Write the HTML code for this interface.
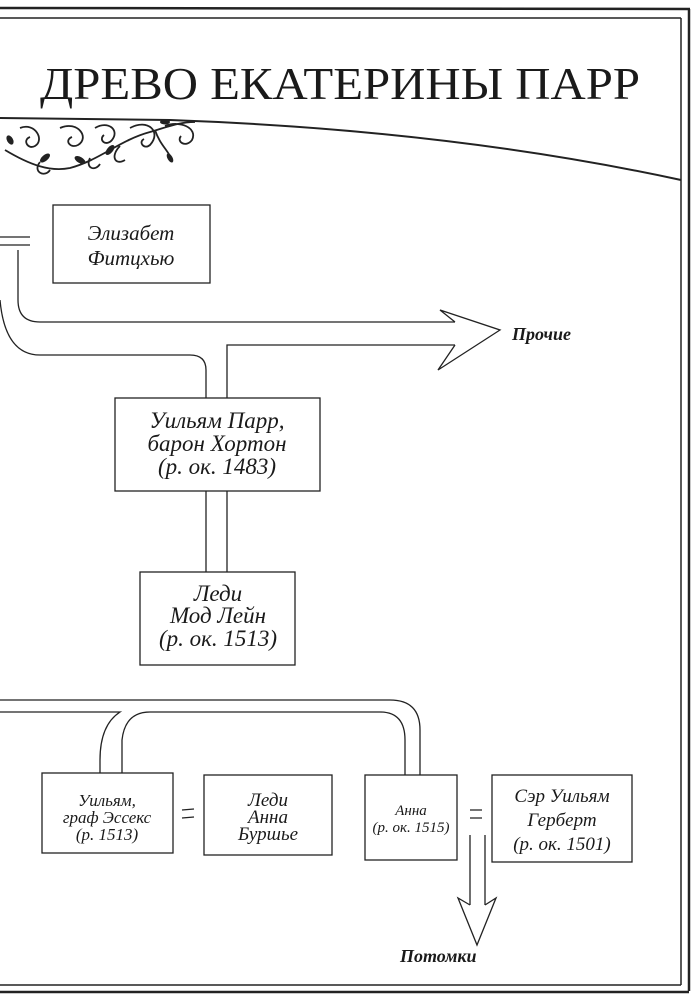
<!DOCTYPE html>
<html><head><meta charset="utf-8"><style>
html,body{margin:0;padding:0;background:#fff;}
svg{display:block;}
text{font-family:"Liberation Serif",serif;font-style:italic;fill:#1a1a1a;}
</style></head><body>
<svg width="697" height="1002" viewBox="0 0 697 1002" xmlns="http://www.w3.org/2000/svg">
<g fill="none" stroke="#222">
<path d="M0 8 L690 9" stroke-width="2.5"/>
<path d="M0 18 L681 18" stroke-width="1.5"/>
<path d="M681 18 L681 985" stroke-width="1.5"/>
<path d="M689 9 L689 991" stroke-width="2.5"/>
<path d="M0 985 L681 985" stroke-width="1.5"/>
<path d="M0 992 L689 992" stroke-width="2.5"/>
<path d="M0 118 L170 120 Q450 130 681 180" stroke-width="2"/>
<g stroke-width="1.8">
<path d="M5 150 C30 165 50 172 70 168 C100 160 120 140 150 132 C170 126 180 122 195 122"/>
<path d="M20 128 C35 122 45 140 35 146 C28 150 22 140 30 137"/>
<path d="M60 128 C78 120 90 138 78 145 C70 149 64 140 72 137"/>
<path d="M95 128 C108 120 120 130 112 140 C106 147 98 140 104 135"/>
<path d="M130 128 C148 118 162 132 150 145 C144 150 138 142 144 139"/>
<path d="M165 126 C180 120 198 128 192 140 C186 148 176 142 181 136"/>
<path d="M40 162 C32 172 45 178 50 170"/>
<path d="M90 158 C85 168 95 172 100 164"/>
<path d="M120 146 C110 156 115 166 125 160"/>
<path d="M155 130 C160 145 168 150 172 160"/>
</g>
<g fill="#222" stroke="none">
<ellipse cx="45" cy="158" rx="6" ry="3" transform="rotate(-40 45 158)"/>
<ellipse cx="80" cy="160" rx="6" ry="3" transform="rotate(30 80 160)"/>
<ellipse cx="110" cy="150" rx="6" ry="3" transform="rotate(-50 110 150)"/>
<ellipse cx="165" cy="122" rx="5" ry="2.5"/>
<ellipse cx="10" cy="140" rx="5" ry="3" transform="rotate(60 10 140)"/>
<ellipse cx="170" cy="158" rx="5" ry="2.5" transform="rotate(60 170 158)"/>
</g>
<g stroke-width="1.3">
<rect x="53" y="205" width="157" height="78"/>
<rect x="115" y="398" width="205" height="93"/>
<rect x="140" y="572" width="155" height="93"/>
<rect x="42" y="773" width="131" height="80"/>
<rect x="204" y="775" width="128" height="80"/>
<rect x="365" y="775" width="92" height="85"/>
<rect x="492" y="775" width="140" height="87"/>
</g>
<g stroke-width="1.3">
<path d="M0 237 L30 237 M0 245 L30 245"/>
<path d="M18 250 L18 300 Q18 322 40 322 L455 322"/>
<path d="M0 300 Q5 355 40 355 L190 355 Q206 355 206 370 L206 398"/>
<path d="M227 398 L227 345 L455 345"/>
<path d="M455 322 L440 310 L500 330 L438 370 L455 345"/>
<path d="M206 491 L206 572 M227 491 L227 572"/>
<path d="M0 700 L390 700 Q420 700 420 730 L420 775"/>
<path d="M0 712 L120 712 Q100 725 100 760 L100 773"/>
<path d="M405 775 L405 740 Q405 712 380 712 L150 712 Q125 712 122 740 L122 773"/>
<path d="M182 810 L194 809 M182 818 L194 817"/>
<path d="M470 810 L482 810 M470 818 L482 818"/>
<path d="M470 835 L470 905 M485 835 L485 905"/>
<path d="M470 905 L458 898 L477 945 L496 898 L485 905"/>
</g>
</g>
<text x="40" y="99" font-size="46" textLength="600" lengthAdjust="spacingAndGlyphs" style="font-style:normal;font-family:'Liberation Serif',serif">ДРЕВО ЕКАТЕРИНЫ ПАРР</text>
<g font-size="21" text-anchor="middle">
<text x="131" y="240">Элизабет</text>
<text x="131" y="265">Фитцхью</text>
<text x="217" y="428" font-size="23">Уильям Парр,</text>
<text x="217" y="451" font-size="23">барон Хортон</text>
<text x="217" y="474" font-size="23">(р. ок. 1483)</text>
<text x="218" y="601" font-size="23">Леди</text>
<text x="218" y="623" font-size="23">Мод Лейн</text>
<text x="218" y="646" font-size="23">(р. ок. 1513)</text>
<text x="107" y="806" font-size="17">Уильям,</text>
<text x="107" y="823" font-size="17">граф Эссекс</text>
<text x="107" y="840" font-size="17">(р. 1513)</text>
<text x="268" y="806" font-size="19">Леди</text>
<text x="268" y="823" font-size="19">Анна</text>
<text x="268" y="840" font-size="19">Буршье</text>
<text x="411" y="815" font-size="15">Анна</text>
<text x="411" y="832" font-size="15">(р. ок. 1515)</text>
<text x="562" y="802" font-size="19">Сэр Уильям</text>
<text x="562" y="826" font-size="19">Герберт</text>
<text x="562" y="850" font-size="19">(р. ок. 1501)</text>
</g>
<text x="512" y="340" font-size="18" font-weight="bold">Прочие</text>
<text x="400" y="962" font-size="18" font-weight="bold">Потомки</text>
</svg>
</body></html>
